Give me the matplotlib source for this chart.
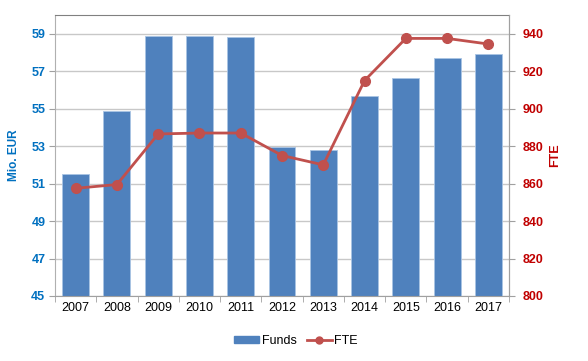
import numpy as np
import matplotlib.pyplot as plt
from matplotlib.lines import Line2D
from matplotlib.patches import Patch

plt.rcParams['font.family'] = ['Liberation Sans', 'DejaVu Sans']

years = ['2007', '2008', '2009', '2010', '2011', '2012', '2013', '2014', '2015', '2016', '2017']
funds = [51.5, 54.9, 58.9, 58.9, 58.85, 52.95, 52.8, 55.65, 56.65, 57.7, 57.9]
fte = [857.5, 859.5, 886.5, 887, 887, 875, 870, 915, 937.5, 937.5, 934.5]

bar_color = '#4F81BD'
line_color = '#C0504D'
left_color = '#0070C0'
right_color = '#C00000'
grid_color = '#C8C8C8'

fig = plt.figure(figsize=(5.88, 3.61), dpi=100)
ax = fig.add_axes([55/588, 1 - 296/361, 454/588, 281/361])
x = np.arange(len(years))

ax.bar(x, funds, width=0.65, color=bar_color, edgecolor='#A9C4E4', linewidth=0.6, zorder=2)
ax.set_xlim(-0.5, len(years) - 0.5)
ax.set_ylim(45, 60)
ax.set_yticks(np.arange(45, 60, 2))
ax.yaxis.grid(True, color=grid_color, linewidth=1, zorder=0)
ax.set_axisbelow(True)
ax.set_xticks(x)
ax.set_xticklabels(years, fontsize=9)
ax.set_xticks(np.arange(-0.5, len(years), 1), minor=True)
ax.tick_params(axis='x', which='major', length=0, pad=4)
ax.tick_params(axis='x', which='minor', length=4, color='#A0A0A0', direction='out')
ax.tick_params(axis='y', length=4, color='#A0A0A0', labelcolor=left_color, labelsize=9, pad=3)
for lab in ax.get_yticklabels():
    lab.set_fontweight('bold')
ax.set_ylabel('Mio. EUR', color=left_color, fontsize=8.5, fontweight='bold', labelpad=8)

ax.spines['top'].set_color('#808080')
ax.spines['left'].set_color('#B0B0B0')
ax.spines['bottom'].set_color('#A0A0A0')
ax.spines['right'].set_color('#A0A0A0')

ax2 = ax.twinx()
ax2.plot(x, fte, color=line_color, linewidth=2, marker='o', markersize=7, zorder=3)
ax2.set_ylim(800, 950)
ax2.set_yticks(np.arange(800, 950, 20))
ax2.tick_params(axis='y', length=4, color='#A0A0A0', labelcolor=right_color, labelsize=9, pad=6)
for lab in ax2.get_yticklabels():
    lab.set_fontweight('bold')
ax2.set_ylabel('FTE', color=right_color, fontsize=9, fontweight='bold', labelpad=4)
for side in ['top', 'left', 'bottom']:
    ax2.spines[side].set_visible(False)
ax2.spines['right'].set_color('#A0A0A0')

handles = [Patch(facecolor=bar_color, edgecolor=bar_color),
           Line2D([0], [0], color=line_color, linewidth=2, marker='o', markersize=5)]
fig.legend(handles, ['Funds', 'FTE'], loc='center', bbox_to_anchor=(296/588, 1 - 341/361),
           ncol=2, frameon=False, fontsize=9, handlelength=2.0, handleheight=0.4,
           columnspacing=0.8, handletextpad=0.2)

fig.savefig('out.png', dpi=100)
